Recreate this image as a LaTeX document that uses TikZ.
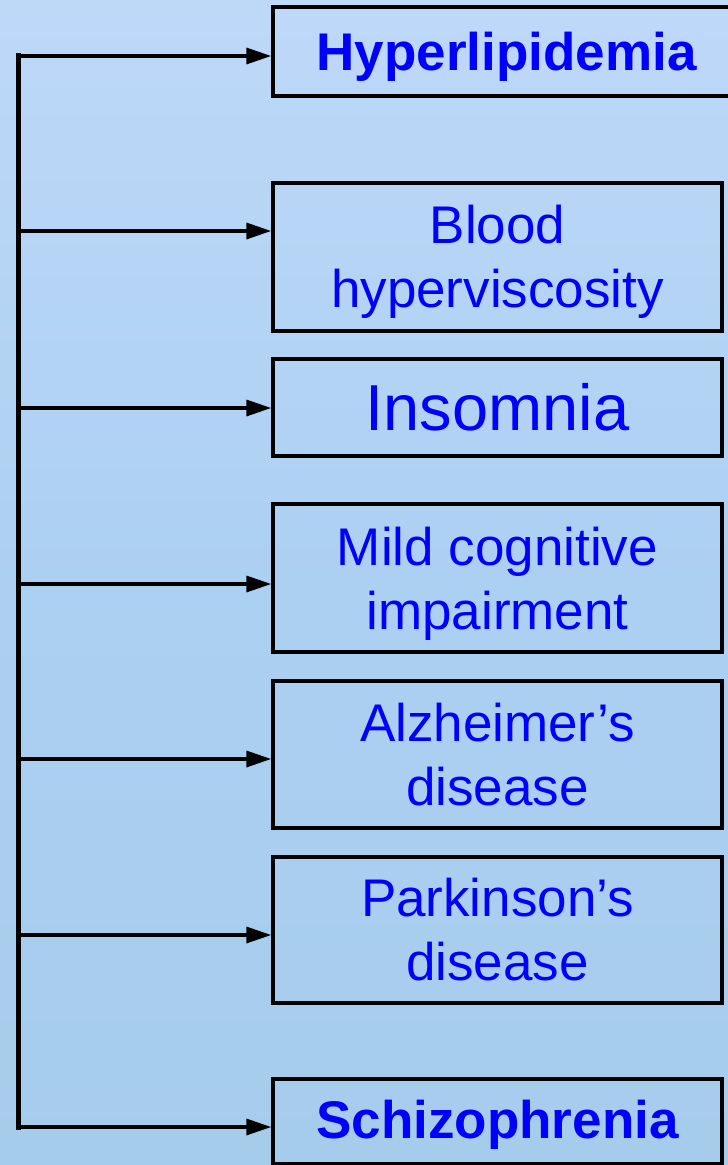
\documentclass[tikz,border=0pt]{standalone}
\usepackage{fontspec}
\setmainfont{Liberation Sans}
\usetikzlibrary{arrows.meta}
\definecolor{txtblue}{RGB}{0,0,255}
\definecolor{bgtop}{RGB}{190,216,248}
\definecolor{bgmid}{RGB}{172,208,242}
\definecolor{bgbot}{RGB}{166,204,236}
\begin{document}
\begin{tikzpicture}[x=1pt,y=-1pt,
  disbox/.style={draw=black, line width=3.4pt, text=txtblue, align=center,
    inner sep=0pt, minimum width=449pt, font=\fontsize{53}{64}\selectfont},
  boldbox/.style={disbox, font=\fontsize{53}{64}\selectfont\bfseries},
  link/.style={draw=black, line width=3.4pt, -{Triangle[length=25pt,width=16pt]}},
  spine/.style={draw=black, line width=5pt}]
\useasboundingbox (0,0) rectangle (728,1165);
\begin{scope}
\clip (0,0) rectangle (728,1165);
\shade[top color=bgtop, bottom color=bgbot, middle color=bgmid] (0,0) rectangle (728,1165);

\node[boldbox, minimum width=467pt, minimum height=89pt, text height=40pt, text depth=3pt] (h1) at (506.5,51.5) {Hyperlipidemia};
\node[disbox, minimum height=148pt] (b2) at (497.5,257) {\rule{0pt}{47pt}Blood\\hyperviscosity};
\node[disbox, minimum height=97pt, font=\fontsize{65}{78}\selectfont] (i3) at (497.5,407.5) {Insomnia};
\node[disbox, minimum height=148pt] (m4) at (497.5,578) {\rule{0pt}{49pt}Mild cognitive\\impairment};
\node[disbox, minimum height=147pt] (a5) at (497.5,754.5) {Alzheimer’s\\disease};
\node[disbox, minimum height=146pt] (p6) at (497.5,930) {Parkinson’s\\disease};
\node[boldbox, minimum height=85pt, text height=40pt, text depth=7pt] (s7) at (497.5,1121.5) {Schizophrenia};

\coordinate (top) at (18,53);
\coordinate (bot) at (18,1130);
\coordinate (c1) at (18,56);
\coordinate (c2) at (18,231);
\coordinate (c3) at (18,408);
\coordinate (c4) at (18,584);
\coordinate (c5) at (18,759);
\coordinate (c6) at (18,935);
\coordinate (c7) at (18,1127);

\draw[spine] (top) -- (bot);
\draw[link] (c1) -- (c1 -| h1.west);
\draw[link] (c2) -- (c2 -| b2.west);
\draw[link] (c3) -- (c3 -| i3.west);
\draw[link] (c4) -- (c4 -| m4.west);
\draw[link] (c5) -- (c5 -| a5.west);
\draw[link] (c6) -- (c6 -| p6.west);
\draw[link] (c7) -- (c7 -| s7.west);
\end{scope}
\end{tikzpicture}
\end{document}
